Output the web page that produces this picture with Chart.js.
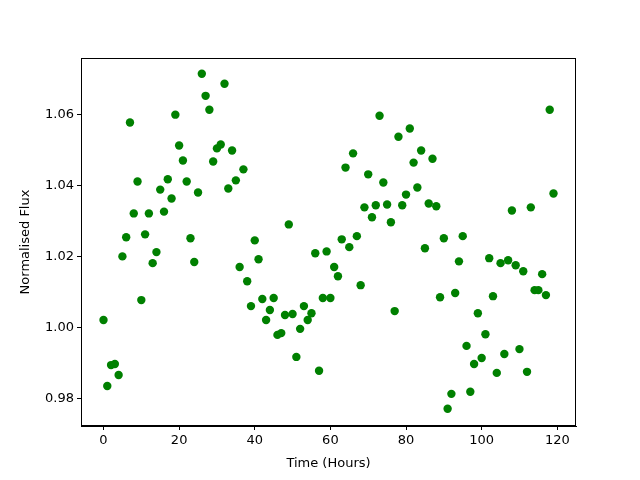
<!DOCTYPE html>
<html><head><meta charset="utf-8">
<script src="https://cdn.jsdelivr.net/npm/chart.js@4/dist/chart.umd.min.js"></script>
<style>html,body{margin:0;padding:0;background:#fff}#c{display:block}</style>
</head><body>
<canvas id="c" width="640" height="480"></canvas>
<script>
const timeHours = Array.from({length:120},(_, i)=>i);
const flux = [
1.0022,0.9836,0.9895,0.9898,0.9867,1.0201,1.0255,1.0578,1.0322,1.0412,
1.0078,1.0263,1.0322,1.0182,1.0213,1.0389,1.0327,1.0418,1.0364,1.0600,
1.0513,1.0471,1.0412,1.0252,1.0185,1.0381,1.0715,1.0653,1.0614,1.0468,
1.0505,1.0516,1.0687,1.0392,1.0499,1.0415,1.0171,1.0446,1.0131,1.0061,
1.0246,1.0193,1.0081,1.0022,1.0050,1.0084,0.9980,0.9985,1.0036,1.0291,
1.0039,0.9918,0.9997,1.0061,1.0022,1.0041,1.0210,0.9879,1.0084,1.0215,
1.0084,1.0171,1.0145,1.0249,1.0451,1.0227,1.0491,1.0258,1.0120,1.0339,
1.0432,1.0311,1.0345,1.0597,1.0409,1.0347,1.0297,1.0047,1.0538,1.0345,
1.0375,1.0561,1.0465,1.0395,1.0499,1.0224,1.0350,1.0476,1.0342,1.0086,
1.0252,0.9772,0.9814,1.0098,1.0187,1.0258,0.9949,0.9820,0.9898,1.0041,
0.9915,0.9982,1.0196,1.0089,0.9873,1.0182,0.9926,1.0190,1.0330,1.0176,
0.9940,1.0159,0.9876,1.0339,1.0106,1.0106,1.0151,1.0092,1.0614,1.0378];
const xTicks = [0,20,40,60,80,100,120];
const yTicks = [0.98,1.00,1.02,1.04,1.06];

const font = {family:'"DejaVu Sans"', size:13};
const frame = {
  id:'frame',
  afterDraw(ch){
    const a=ch.chartArea, c=ch.ctx;
    c.save(); c.strokeStyle='#000'; c.lineWidth=1;
    c.strokeRect(Math.round(a.left)+0.5, Math.round(a.top)+0.5, Math.round(a.right-a.left)-1, Math.round(a.bottom-a.top)-1);
    c.restore();
  }
};
new Chart(document.getElementById('c'), {
  type:'scatter',
  data:{datasets:[{data: timeHours.map((t,i)=>({x:t,y:flux[i]})),
    backgroundColor:'#008000', borderColor:'#008000', pointRadius:4.2, pointHoverRadius:4.2, borderWidth:0}]},
  options:{
    responsive:false, animation:false,
    layout:{padding:{top:58,right:64,left:0,bottom:0}},
    plugins:{legend:{display:false}, tooltip:{enabled:false}},
    scales:{
      x:{type:'linear', min:-5.95, max:124.95,
        afterBuildTicks(s){ s.ticks = xTicks.map(v=>({value:v})); },
        afterFit(s){ s.height = 54; },
        ticks:{color:'#000', font, padding:3, maxRotation:0, callback:v=>String(v)},
        grid:{display:true, drawOnChartArea:false, drawTicks:true, tickLength:4, color:'#000'},
        border:{display:true, color:'#000'},
        title:{display:true, text:'Time (Hours)', color:'#000', font, padding:{top:2,bottom:9}}
      },
      y:{type:'linear', min:0.97235, max:1.07595,
        afterBuildTicks(s){ s.ticks = yTicks.map(v=>({value:v})); },
        afterFit(s){ s.width = 81; },
        ticks:{color:'#000', font, padding:3, callback:v=>Number(v).toFixed(2)},
        grid:{display:true, drawOnChartArea:false, drawTicks:true, tickLength:4, color:'#000'},
        border:{display:true, color:'#000'},
        title:{display:true, text:'Normalised Flux', color:'#000', font, padding:{top:18,bottom:4}}
      }
    }
  },
  plugins:[frame]
});
</script>
</body></html>
